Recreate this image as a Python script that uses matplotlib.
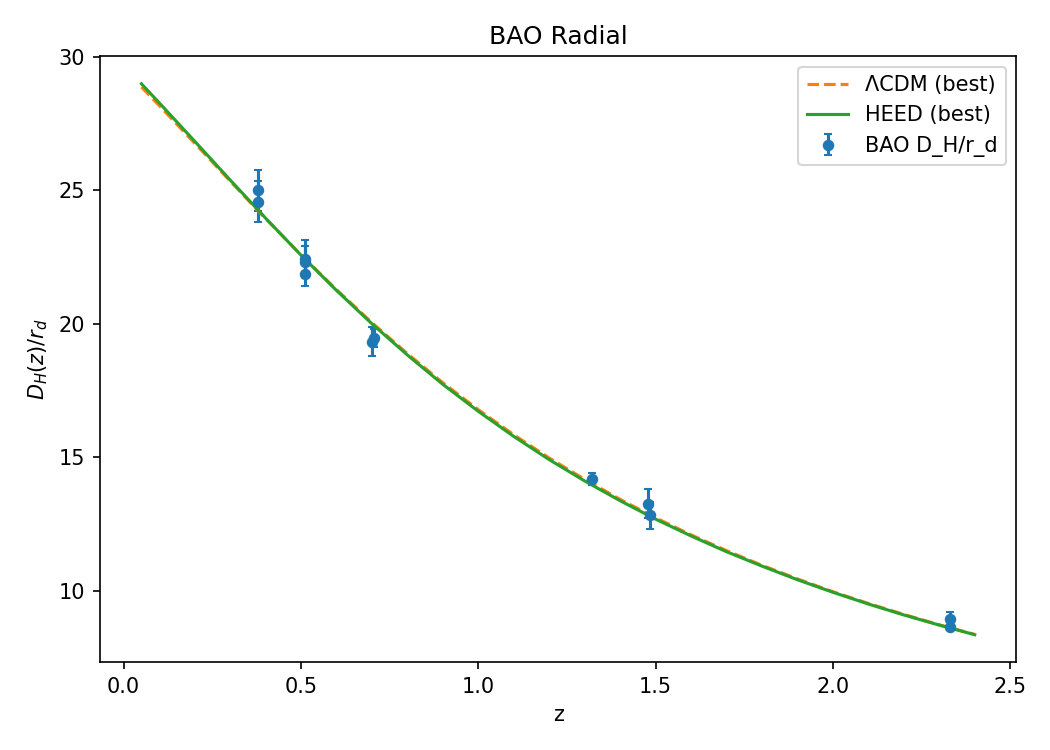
import matplotlib
matplotlib.use('Agg')
import matplotlib.pyplot as plt

# model curves
z_model = [0.05, 0.1, 0.2, 0.3, 0.4, 0.5, 0.6, 0.7, 0.8, 0.9, 1.0, 1.1, 1.2,
           1.3, 1.4, 1.5, 1.6, 1.7, 1.8, 1.9, 2.0, 2.1, 2.2, 2.3, 2.4]
dh_lcdm = [28.87, 28.18, 26.77, 25.35, 23.94, 22.58, 21.28, 20.04, 18.88,
           17.79, 16.78, 15.84, 14.97, 14.17, 13.42, 12.73, 12.09, 11.50,
           10.95, 10.44, 9.96, 9.52, 9.11, 8.72, 8.36]
dh_heed = [28.99, 28.28, 26.84, 25.39, 23.96, 22.57, 21.25, 20.00, 18.83,
           17.73, 16.72, 15.78, 14.91, 14.11, 13.37, 12.68, 12.05, 11.46,
           10.92, 10.41, 9.94, 9.50, 9.09, 8.71, 8.35]

# BAO D_H/r_d data
z_bao = [0.38, 0.38, 0.51, 0.51, 0.51, 0.70, 0.706, 1.321, 1.48, 1.484, 2.33, 2.33]
dh_bao = [25.00, 24.58, 22.43, 22.33, 21.86, 19.33, 19.46, 14.18, 13.26, 12.82, 8.93, 8.63]
dh_err = [0.76, 0.76, 0.69, 0.58, 0.43, 0.53, 0.33, 0.22, 0.55, 0.52, 0.28, 0.10]

fig, ax = plt.subplots(figsize=(7, 5))
ax.errorbar(z_bao, dh_bao, yerr=dh_err, fmt='o', ms=4.5, capsize=2,
            label="BAO D_H/r_d")
ax.plot(z_model, dh_lcdm, '--', color='C1', label="ΛCDM (best)")
ax.plot(z_model, dh_heed, '-', color='C2', label="HEED (best)")
ax.set_xlabel("z")
ax.set_ylabel(r"$D_H(z)/r_d$")
ax.set_title("BAO Radial")
ax.legend()
fig.subplots_adjust(left=0.095, right=0.968, top=0.925, bottom=0.117)
plt.savefig("out.png", dpi=150)
plt.close()
